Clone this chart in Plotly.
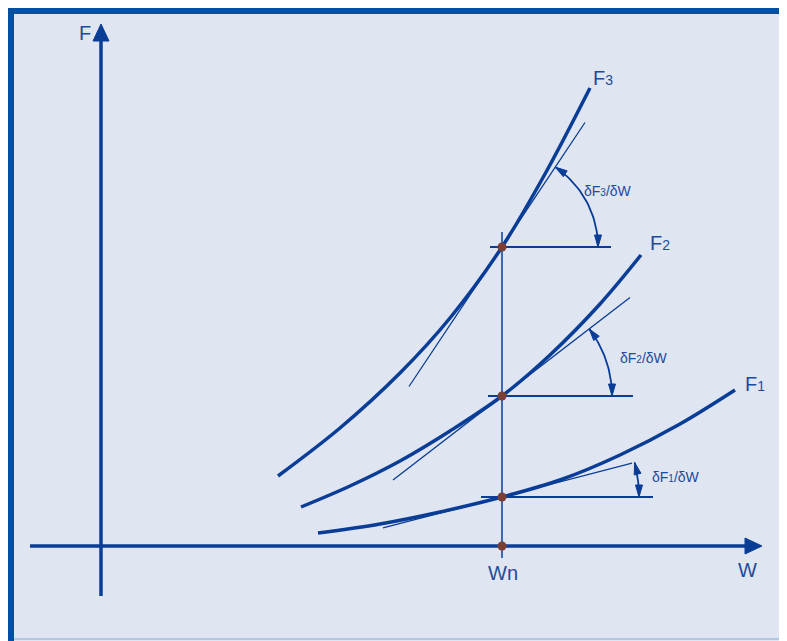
import math
import plotly.graph_objects as go

# diagram units: 1 unit = 1 px, origin at the axes crossing
w_f3 = [177, 239, 299, 349, 401, 444, 489]
f_f3 = [70, 118, 173, 228, 299, 372, 458]
w_f2 = [200, 249, 299, 349, 401, 449, 499, 540]
f_f2 = [39, 60, 85, 115, 150, 191, 242, 291]
w_f1 = [217, 279, 339, 401, 459, 519, 579, 634]
f_f1 = [13, 22, 34, 49, 66, 91, 122, 156]

wn = 401
f_at_wn = [299, 150, 49]            # F3, F2, F1 at Wn
slopes = [1.5, 0.77, 0.26]          # dF/dW at Wn
tangent_w = [(308, 484), (292, 529), (282, 531)]
level_w = [(389, 510), (387, 532), (380, 552)]
arc_r = [96, 110, 137]

SUB20 = '<span style="font-size:14px">%s</span>'
SUB14 = '<span style="font-size:10px">%s</span>'
curve_labels = ["F" + SUB20 % "3", "F" + SUB20 % "2", "F" + SUB20 % "1"]
curve_label_pos = [(502, 468), (559, 303), (654, 162)]
slope_labels = ["δF" + SUB14 % "3" + "/δW", "δF" + SUB14 % "2" + "/δW", "δF" + SUB14 % "1" + "/δW"]
slope_label_pos = [(507, 355), (543, 188), (575, 69)]

BLUE = "#0a3d96"
TXT = "#1d4b9b"
BG = "#dfe5f1"
DOT = "#7b3f36"
FONT = "Liberation Sans, Arial, sans-serif"

fig = go.Figure()


def line(xs, ys, width, color=BLUE, shape="linear"):
    fig.add_trace(go.Scatter(x=xs, y=ys, mode="lines", hoverinfo="skip",
                             line=dict(color=color, width=width, shape=shape)))


def head(tip, direction, length, half):
    dx, dy = direction
    n = math.hypot(dx, dy)
    dx, dy = dx / n, dy / n
    bx, by = tip[0] - dx * length, tip[1] - dy * length
    px, py = -dy * half, dx * half
    fig.add_trace(go.Scatter(x=[tip[0], bx + px, bx - px, tip[0]],
                             y=[tip[1], by + py, by - py, tip[1]],
                             mode="lines", fill="toself", fillcolor=BLUE,
                             line=dict(color=BLUE, width=1), hoverinfo="skip"))


# axes
line([-71, 645], [0, 0], 3.5)
head((661, 0), (1, 0), 17, 8)
line([0, 0], [-50, 505], 3.5)
head((0, 522), (0, 1), 17, 8)

# curves
line(w_f3, f_f3, 3.5, shape="spline")
line(w_f2, f_f2, 3.5, shape="spline")
line(w_f1, f_f1, 3.5, shape="spline")

# vertical at Wn
line([wn, wn], [-12, 314], 1.5)

for i in range(3):
    f0 = f_at_wn[i]
    a, b = tangent_w[i]
    line([a, b], [f0 + slopes[i] * (a - wn), f0 + slopes[i] * (b - wn)], 1.3)
    la, lb = level_w[i]
    line([la, lb], [f0, f0], 2)
    # angle arc
    th = math.atan(slopes[i])
    r = arc_r[i]
    n = 30
    ang = [th * k / n for k in range(n + 1)]
    line([wn + r * math.cos(t) for t in ang], [f0 + r * math.sin(t) for t in ang], 1.8)
    head((wn + r, f0), (0, -1), 12, 3.5)
    head((wn + r * math.cos(th), f0 + r * math.sin(th)), (-math.sin(th), math.cos(th)), 12, 3.5)

# points at Wn
fig.add_trace(go.Scatter(x=[wn] * 4, y=f_at_wn + [0], mode="markers", hoverinfo="skip",
                         marker=dict(color=DOT, size=9)))

# labels
for t, (x, y) in zip(curve_labels, curve_label_pos):
    fig.add_annotation(x=x, y=y, text=t, showarrow=False, font=dict(size=20, color=TXT, family=FONT))
for t, (x, y) in zip(slope_labels, slope_label_pos):
    fig.add_annotation(x=x, y=y, text=t, showarrow=False, font=dict(size=14, color=TXT, family=FONT))
fig.add_annotation(x=402, y=-27, text="Wn", showarrow=False, font=dict(size=20, color=TXT, family=FONT))
fig.add_annotation(x=646, y=-24, text="W", showarrow=False, font=dict(size=20, color=TXT, family=FONT))
fig.add_annotation(x=-16, y=513, text="F", showarrow=False, font=dict(size=20, color=TXT, family=FONT))

# frame
fig.add_shape(type="rect", x0=-90, x1=720, y0=-120, y1=535, layer="below",
              fillcolor=BG, line=dict(color="#0350a0", width=6))
fig.add_shape(type="line", x0=-87, x1=720, y0=-93, y1=-93, layer="below",
              line=dict(color="#b5c6e2", width=2))

fig.update_layout(
    width=787, height=641, margin=dict(l=0, r=0, t=0, b=0),
    paper_bgcolor=BG, plot_bgcolor="white", showlegend=False,
    xaxis=dict(range=[-93, 694], visible=False, fixedrange=True),
    yaxis=dict(range=[-103, 538], visible=False, fixedrange=True),
)
fig.write_html("out.html")
